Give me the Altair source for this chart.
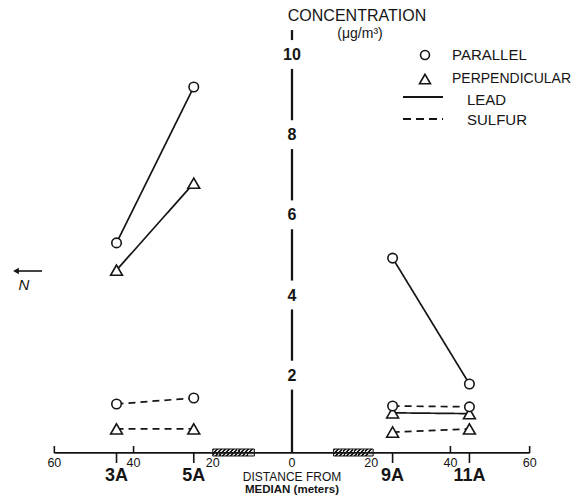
import altair as alt
import pandas as pd

# ---------------- data ----------------
stations = ["3A", "5A", "9A", "11A"]
station_x = [-44.3, -24.8, 25.4, 44.8]          # distance from median (m)
station_side = ["N", "N", "S", "S"]

lead_parallel = [5.24, 9.13, 4.86, 1.72]
lead_perpendicular = [4.56, 6.73, 1.00, 0.98]
sulfur_parallel = [1.22, 1.37, 1.17, 1.15]
sulfur_perpendicular = [0.60, 0.60, 0.52, 0.60]

x_tick_values = [-60, -40, -20, 0, 20, 40, 60]
x_tick_labels = ["60", "40", "20", "0", "20", "40", "60"]
y_tick_values = [2, 4, 6, 8, 10]
y_tick_labels = ["2", "4", "6", "8", "10"]
median_lo = [-20, 10.5]
median_hi = [-9.5, 20.5]

INK = "#151515"
FONT = "Liberation Sans"

# ---------------- tables ----------------
rows = []
for pol, ori, vals in [("LEAD", "PARALLEL", lead_parallel),
                       ("LEAD", "PERPENDICULAR", lead_perpendicular),
                       ("SULFUR", "PARALLEL", sulfur_parallel),
                       ("SULFUR", "PERPENDICULAR", sulfur_perpendicular)]:
    for st, sx, sd, v in zip(stations, station_x, station_side, vals):
        rows.append(dict(station=st, x=sx, conc=v, pollutant=pol,
                         orientation=ori, group=f"{pol}-{ori}-{sd}"))
df = pd.DataFrame(rows)

df_xt = pd.DataFrame({"x": x_tick_values, "label": x_tick_labels})
df_xt_up = df_xt[df_xt["x"].abs() >= 40]
df_st = pd.DataFrame({"x": station_x, "label": stations})
df_yt = pd.DataFrame({"y": y_tick_values, "label": y_tick_labels, "x0": 0})
df_axis = pd.DataFrame({"lo": [min(x_tick_values)], "hi": [max(x_tick_values)], "y0": [0]})
df_med = pd.DataFrame({"lo": median_lo, "hi": median_hi})

# vertical axis segments broken around the labels
ticks = [0] + y_tick_values
seg_lo, seg_hi = [], []
for a, b in zip(ticks[:-1], ticks[1:]):
    seg_lo.append(a + 0.3 if a > 0 else 0)
    seg_hi.append(b - 0.42)
seg_lo.append(ticks[-1] + 0.3)
seg_hi.append(ticks[-1] + 0.55)
df_vseg = pd.DataFrame({"lo": seg_lo, "hi": seg_hi, "x0": 0})

one = pd.DataFrame({"k": [0]})

xs = alt.Scale(domain=[-71.7, 71.2], nice=False, zero=False)
ys = alt.Scale(domain=[-1.05, 11.1], nice=False, zero=False)

# ---------------- layers ----------------
stops = []
n = 11
for i in range(n):
    a, b, c = i / n, (i + 0.5) / n, (i + 1) / n
    stops += [alt.GradientStop(offset=a, color=INK), alt.GradientStop(offset=b, color=INK),
              alt.GradientStop(offset=b, color="#dddddd"), alt.GradientStop(offset=c, color="#dddddd")]
hatch = alt.LinearGradient(gradient="linear", stops=stops, x1=0, x2=1, y1=0, y2=0.15)

median = alt.Chart(df_med).mark_rect(fill=hatch, stroke=INK, strokeWidth=1).encode(
    x=alt.X("lo:Q", scale=xs, axis=None), x2="hi:Q",
    y=alt.value(441), y2=alt.value(448))

xaxis = alt.Chart(df_axis).mark_rule(color=INK, strokeWidth=1.8).encode(
    x=alt.X("lo:Q", scale=xs, axis=None), x2="hi:Q",
    y=alt.Y("y0:Q", scale=ys, axis=None))

xticks = alt.Chart(df_xt_up).mark_rule(color=INK, strokeWidth=1.6).encode(
    x=alt.X("x:Q", scale=xs, axis=None), y=alt.value(438), y2=alt.value(445))

sticks = alt.Chart(df_st).mark_rule(color=INK, strokeWidth=1.6).encode(
    x=alt.X("x:Q", scale=xs, axis=None), y=alt.value(445), y2=alt.value(455))

xlabels = alt.Chart(df_xt).mark_text(font=FONT, fontSize=12.5, color=INK, baseline="middle").encode(
    x=alt.X("x:Q", scale=xs, axis=None), y=alt.value(454.5), text="label:N")

slabels = alt.Chart(df_st).mark_text(font=FONT, fontSize=18, fontWeight="bold", color=INK,
                                     baseline="middle").encode(
    x=alt.X("x:Q", scale=xs, axis=None), y=alt.value(468), text="label:N")

vaxis = alt.Chart(df_vseg).mark_rule(color=INK, strokeWidth=2.3).encode(
    x=alt.X("x0:Q", scale=xs, axis=None),
    y=alt.Y("lo:Q", scale=ys, axis=None), y2="hi:Q")

ylabels = alt.Chart(df_yt).mark_text(font=FONT, fontSize=16, fontWeight="bold", color=INK,
                                     baseline="middle", dy=3).encode(
    x=alt.X("x0:Q", scale=xs, axis=None),
    y=alt.Y("y:Q", scale=ys, axis=None), text="label:N")

lines = alt.Chart(df).mark_line(color=INK, strokeWidth=1.7).encode(
    x=alt.X("x:Q", scale=xs, axis=None),
    y=alt.Y("conc:Q", scale=ys, axis=None),
    detail="group:N",
    strokeDash=alt.StrokeDash("pollutant:N",
                              scale=alt.Scale(domain=["LEAD", "SULFUR"], range=[[1, 0], [7, 5]]),
                              legend=None))

points = alt.Chart(df).mark_point(filled=True, fill="white", stroke=INK, strokeWidth=1.6,
                                  opacity=1).encode(
    x=alt.X("x:Q", scale=xs, axis=None),
    y=alt.Y("conc:Q", scale=ys, axis=None),
    shape=alt.Shape("orientation:N",
                    scale=alt.Scale(domain=["PARALLEL", "PERPENDICULAR"],
                                    range=["circle", "triangle-up"]), legend=None),
    size=alt.Size("orientation:N",
                  scale=alt.Scale(domain=["PARALLEL", "PERPENDICULAR"], range=[90, 140]),
                  legend=None))

def txt(s, px, py, size=15, weight="normal", align="left", style="normal"):
    return alt.Chart(one).mark_text(text=s, font=FONT, fontSize=size, fontWeight=weight,
                                    fontStyle=style, align=align, baseline="middle",
                                    color=INK).encode(x=alt.value(px - 8), y=alt.value(py - 8))

title1 = txt("CONCENTRATION", 357, 16, size=16, align="center")
title2 = txt("(μg/m³)", 360, 34, size=14, align="center")
xt1 = txt("DISTANCE  FROM", 292, 476.5, size=12, align="center")
xt2 = txt("MEDIAN (meters)", 292, 489.5, size=11.5, weight="bold", align="center")

leg_c = alt.Chart(one).mark_point(shape="circle", size=80, filled=True, fill="white",
                                  stroke=INK, strokeWidth=1.6, opacity=1).encode(
    x=alt.value(425 - 8), y=alt.value(55 - 8))
leg_t = alt.Chart(one).mark_point(shape="triangle-up", size=120, filled=True, fill="white",
                                  stroke=INK, strokeWidth=1.6, opacity=1).encode(
    x=alt.value(425 - 8), y=alt.value(79 - 8))
leg_l = alt.Chart(one).mark_rule(color=INK, strokeWidth=1.8).encode(
    x=alt.value(403 - 8), x2=alt.value(443 - 8), y=alt.value(97 - 8))
leg_s = alt.Chart(one).mark_rule(color=INK, strokeWidth=1.8, strokeDash=[8, 5]).encode(
    x=alt.value(403 - 8), x2=alt.value(443 - 8), y=alt.value(119 - 8))
lt1 = txt("PARALLEL", 452, 55, size=15)
lt2 = txt("PERPENDICULAR", 452, 79, size=14)
lt3 = txt("LEAD", 467, 100, size=15)
lt4 = txt("SULFUR", 467, 120, size=15)

arrow = alt.Chart(one).mark_rule(color=INK, strokeWidth=1.6).encode(
    x=alt.value(16 - 8), x2=alt.value(42 - 8), y=alt.value(271 - 8))
arrowhead = alt.Chart(one).mark_point(shape="triangle-left", size=45, filled=True,
                                      color=INK, opacity=1).encode(
    x=alt.value(16 - 8), y=alt.value(271 - 8))
ntext = txt("N", 24, 285, size=15, style="italic", align="center")

chart = alt.layer(
    median, xaxis, xticks, sticks, xlabels, slabels, vaxis, ylabels, lines, points,
    title1, title2, xt1, xt2, leg_c, leg_t, leg_l, leg_s, lt1, lt2, lt3, lt4,
    arrow, arrowhead, ntext
).properties(
    width=566, height=487, padding=0,
    autosize=alt.AutoSizeParams(type="none"),
    background="white"
).configure_view(stroke=None)

chart.save("out.html", embed_options={"renderer": "svg", "actions": False})
